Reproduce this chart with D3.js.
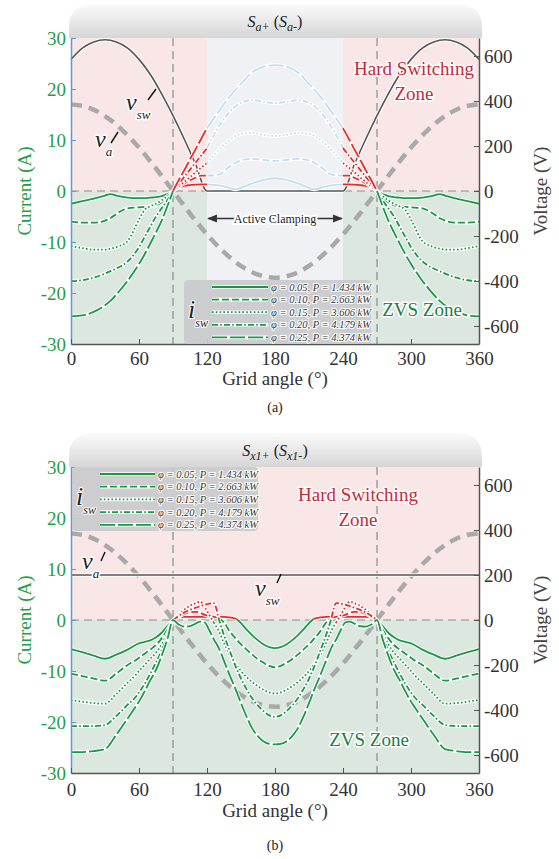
<!DOCTYPE html>
<html>
<head>
<meta charset="utf-8">
<script src="https://cdn.jsdelivr.net/npm/d3@7"></script>
<style>
  body { margin: 0; background: #fff; }
  svg { display: block; }
  .halo { paint-order: stroke; stroke: #fff; stroke-linejoin: round; }
</style>
</head>
<body>
<svg id="chart" width="559" height="859"></svg>
<script>
// ---- data ----
var legendLabels = ["φ = 0.05, P = 1.434 kW", "φ = 0.10, P = 2.663 kW", "φ = 0.15, P = 3.606 kW",
                    "φ = 0.20, P = 4.179 kW", "φ = 0.25, P = 4.374 kW"];
var angleTicks = [0, 60, 120, 180, 240, 300, 360];
var currentTicks = [-30, -20, -10, 0, 10, 20, 30];
var voltageTicks = [-600, -400, -200, 0, 200, 400, 600];

// grid voltage v_a (same in both panels)
var vaAngles = [0, 15, 30, 45, 60, 75, 90, 105, 120, 135, 150, 165, 180, 195, 210, 225, 240, 255, 270, 285, 300, 315, 330, 345, 360];
var vaValues = [385, 372, 333, 272, 193, 100, 0, -100, -193, -272, -333, -372, -385, -372, -333, -272, -193, -100, 0, 100, 193, 272, 333, 372, 385];

// switch voltage, panel (a)
var vswAnglesA = [0, 10, 20, 30, 40, 50, 60, 70, 80, 90, 100, 110, 120, 180, 240, 250, 260, 270, 280, 290, 300, 310, 320, 330, 340, 350, 360];
var vswValuesA = [585, 635, 662, 672, 662, 635, 585, 518, 432, 335, 230, 118, 0, 0, 0, 118, 230, 335, 432, 518, 585, 635, 662, 672, 662, 635, 585];
// switch voltage, panel (b)
var vswAnglesB = [0, 360];
var vswValuesB = [200, 200];

// switch currents, panel (a)
var anglesA = [0, 10, 20, 30, 35, 40, 50, 60, 65, 70, 75, 80, 85, 90, 95, 100, 105, 110, 115, 120, 130, 140, 145, 150, 160, 170, 180,
               190, 200, 210, 215, 220, 230, 240, 245, 250, 255, 260, 265, 270, 275, 280, 285, 290, 295, 300, 310, 320, 325, 330, 340, 350, 360];
var iswA1 = [-2.5, -2.0, -1.5, -0.9, -0.6, -0.9, -1.3, -1.4, -1.4, -1.3, -1.2, -1.0, -0.6, 0, 0.7, 1.0, 1.15, 1.25, 1.3, 1.3, 1.1, 0.6, 0.3, 0.6, 1.5, 2.2, 2.5,
             2.2, 1.5, 0.6, 0.3, 0.6, 1.1, 1.3, 1.3, 1.25, 1.15, 1.0, 0.7, 0, -0.6, -1.0, -1.2, -1.3, -1.4, -1.4, -1.3, -0.9, -0.6, -0.9, -1.5, -2.0, -2.5];
var iswA2 = [-6.0, -6.2, -6.2, -5.8, -5.3, -4.5, -3.4, -3.2, -3.1, -3.0, -2.8, -2.2, -1.2, 0, 0.8, 1.5, 2.1, 2.6, 3.0, 3.0, 3.2, 4.8, 5.5, 6.0, 6.3, 6.1, 5.9,
             6.1, 6.3, 6.0, 5.5, 4.8, 3.2, 3.0, 3.0, 2.6, 2.1, 1.5, 0.8, 0, -1.2, -2.2, -2.8, -3.0, -3.1, -3.2, -3.4, -4.5, -5.3, -5.8, -6.2, -6.2, -6.0];
var iswA3 = [-10.8, -11.2, -11.5, -11.5, -11.3, -11.0, -9.8, -5.6, -3.7, -3.0, -2.5, -1.8, -1.0, 0, 0.9, 1.8, 2.7, 3.7, 4.6, 5.5, 8.0, 10.0, 10.8, 11.2, 11.4, 11.0, 10.8,
             11.0, 11.4, 11.2, 10.8, 10.0, 8.0, 5.5, 4.6, 3.7, 2.7, 1.8, 0.9, 0, -1.0, -1.8, -2.5, -3.0, -3.7, -5.6, -9.8, -11.0, -11.3, -11.5, -11.5, -11.2, -10.8];
var iswA4 = [-17.7, -17.5, -17.0, -16.2, -15.7, -15.2, -13.8, -11.0, -9.0, -7.0, -5.0, -3.4, -1.8, 0, 1.4, 2.8, 4.2, 5.6, 7.0, 8.4, 12.5, 15.5, 16.6, 17.3, 17.8, 17.5, 17.2,
             17.5, 17.8, 17.3, 16.6, 15.5, 12.5, 8.4, 7.0, 5.6, 4.2, 2.8, 1.4, 0, -1.8, -3.4, -5.0, -7.0, -9.0, -11.0, -13.8, -15.2, -15.7, -16.2, -17.0, -17.5, -17.7];
var iswA5 = [-24.6, -24.4, -23.7, -22.4, -21.5, -20.3, -17.6, -14.3, -12.4, -10.3, -8.1, -5.8, -3.0, 0, 2.1, 4.1, 6.2, 8.2, 10.3, 12.3, 15.5, 18.5, 19.8, 21.0, 23.3, 24.4, 24.7,
             24.4, 23.3, 21.0, 19.8, 18.5, 15.5, 12.3, 10.3, 8.2, 6.2, 4.1, 2.1, 0, -3.0, -5.8, -8.1, -10.3, -12.4, -14.3, -17.6, -20.3, -21.5, -22.4, -23.7, -24.4, -24.6];

// switch currents, panel (b)
var anglesB = [0, 10, 20, 30, 40, 50, 57, 60, 65, 70, 75, 80, 85, 90, 95, 100, 105, 110, 114, 118, 122, 126, 130, 135, 140, 146, 150, 155, 160, 165, 170, 175, 180,
               185, 190, 195, 200, 205, 210, 214, 220, 225, 230, 234, 238, 242, 246, 250, 255, 260, 265, 270, 275, 280, 285, 290, 295, 300, 303, 310, 320, 330, 340, 350, 360];
var iswB1 = [-5.7, -6.3, -7.0, -7.6, -6.8, -5.8, -4.9, -4.6, -4.3, -4.0, -3.4, -2.5, -1.2, 0, 0.5, 0.6, 0.6, 0.6, 0.6, 0.6, 0.6, 0.6, 0.6, 0.6, 0.5, 0.2, -0.6, -1.9, -3.0, -4.0, -4.8, -5.3, -5.5,
             -5.3, -4.8, -4.0, -3.0, -1.9, -0.6, 0.2, 0.5, 0.6, 0.6, 0.6, 0.6, 0.6, 0.6, 0.6, 0.6, 0.6, 0.5, 0, -1.2, -2.5, -3.4, -4.0, -4.3, -4.6, -4.9, -5.8, -6.8, -7.6, -7.0, -6.3, -5.7];
var iswB2 = [-10.5, -11.0, -11.5, -11.9, -10.5, -8.8, -7.9, -7.4, -6.6, -5.8, -4.9, -3.6, -1.9, 0, 0.6, 1.2, 1.5, 1.6, 1.4, 1.0, 0.8, 0.6, 0.4, -0.5, -2.2, -3.8, -4.8, -5.8, -6.8, -7.7, -8.4, -9.0, -9.3,
             -9.0, -8.4, -7.7, -6.8, -5.8, -4.8, -3.8, -2.2, -0.5, 0.4, 0.6, 0.8, 1.0, 1.4, 1.6, 1.5, 1.2, 0.6, 0, -1.9, -3.6, -4.9, -5.8, -6.6, -7.4, -7.9, -8.8, -10.5, -11.9, -11.5, -11.0, -10.5];
var iswB3 = [-15.7, -16.0, -16.3, -16.4, -14.5, -12.3, -10.8, -10.0, -8.8, -7.6, -6.4, -4.8, -2.6, 0, 1.0, 2.0, 2.8, 3.3, 3.6, 2.5, 1.0, -0.5, -2.0, -4.5, -6.8, -8.8, -10.0, -11.2, -12.2, -13.0, -13.7, -14.2, -14.4,
             -14.2, -13.7, -13.0, -12.2, -11.2, -10.0, -8.8, -6.8, -4.5, -2.0, -0.5, 1.0, 2.5, 3.6, 3.3, 2.8, 2.0, 1.0, 0, -2.6, -4.8, -6.4, -7.6, -8.8, -10.0, -10.8, -12.3, -14.5, -16.4, -16.3, -16.0, -15.7];
var iswB4 = [-20.8, -20.8, -20.8, -20.6, -18.8, -16.6, -15.1, -14.2, -12.5, -10.5, -8.3, -6.0, -3.2, 0, 0.8, 1.5, 2.0, 2.4, 2.7, 3.0, 3.2, 3.3, 0.5, -3.0, -6.0, -9.5, -11.5, -13.6, -15.4, -16.8, -17.9, -18.7, -19.0,
             -18.7, -17.9, -16.8, -15.4, -13.6, -11.5, -9.5, -6.0, -3.0, 0.5, 3.3, 3.2, 3.0, 2.7, 2.4, 2.0, 1.5, 0.8, 0, -3.2, -6.0, -8.3, -10.5, -12.5, -14.2, -15.1, -16.6, -18.8, -20.6, -20.8, -20.8, -20.8];
var iswB5 = [-25.9, -25.9, -25.7, -25.3, -22.5, -19.3, -17.0, -16.0, -14.0, -11.8, -9.8, -7.0, -3.8, 0, -0.9, -1.3, -1.2, -0.7, -0.3, -0.5, -2.0, -3.8, -5.3, -8.0, -10.8, -14.0, -16.3, -19.0, -21.3, -22.8, -23.8, -24.3, -24.4,
             -24.3, -23.8, -22.8, -21.3, -19.0, -16.3, -14.0, -10.8, -8.0, -5.3, -3.8, -2.0, -0.5, -0.3, -0.7, -1.2, -1.3, -0.9, 0, -3.8, -7.0, -9.8, -11.8, -14.0, -16.0, -17.0, -19.3, -22.5, -25.3, -25.7, -25.9, -25.9];

// ---- styling ----
var GREEN = "#1b9847", RED = "#ec2a2c", BLUE = "#c6dcef";
var SERIF = "'Liberation Serif', 'Times New Roman', serif";
var dashes = [null, "7,3", "1.6,2.2", "6,2.2,1.6,2.2", "15,3"];

var svg = d3.select("#chart");
var defs = svg.append("defs");
var grad = defs.append("linearGradient").attr("id", "titleGrad").attr("x1", 0).attr("y1", 0).attr("x2", 0).attr("y2", 1);
grad.append("stop").attr("offset", "0%").attr("stop-color", "#fbfbfb");
grad.append("stop").attr("offset", "100%").attr("stop-color", "#d6d6d6");
defs.append("marker").attr("id", "arrow").attr("viewBox", "0 0 10 10").attr("refX", 9).attr("refY", 5)
  .attr("markerWidth", 7).attr("markerHeight", 7).attr("orient", "auto-start-reverse")
  .append("path").attr("d", "M0,1 L10,5 L0,9 Z").attr("fill", "#333");

var x = d3.scaleLinear().domain([0, 360]).range([71, 479]);

function splitByColour(angles, vals, colourOf) {
  var segs = [], cur = null;
  for (var i = 0; i < angles.length - 1; i++) {
    var c = colourOf((angles[i] + angles[i + 1]) / 2, (vals[i] + vals[i + 1]) / 2);
    if (!cur || cur.colour !== c) {
      cur = {colour: c, pts: [[angles[i], vals[i]]]};
      segs.push(cur);
    }
    cur.pts.push([angles[i + 1], vals[i + 1]]);
  }
  return segs;
}

function drawPanel(p) {
  var g = svg.append("g");
  var yI = d3.scaleLinear().domain([-30, 30]).range([p.bottom, p.top]);
  var yV = d3.scaleLinear().domain([-680, 680]).range([p.bottom, p.top]);

  // title bar
  var x0 = 69, x1 = 482, yt = p.top - 34, yb = p.top, r = 24;
  g.append("path")
    .attr("d", "M" + x0 + "," + yb + "L" + x0 + "," + (yt + r) + "Q" + x0 + "," + yt + " " + (x0 + r) + "," + yt +
               "L" + (x1 - r) + "," + yt + "Q" + x1 + "," + yt + " " + x1 + "," + (yt + r) + "L" + x1 + "," + yb + "Z")
    .attr("fill", "url(#titleGrad)");
  var t = g.append("text").attr("x", x(180)).attr("y", p.top - 11).attr("text-anchor", "middle")
    .attr("font-size", 16).attr("font-style", "italic").attr("fill", "#222");
  t.append("tspan").text("S");
  t.append("tspan").attr("font-size", 12).attr("dy", 4).text(p.sub + "+");
  t.append("tspan").attr("dy", -4).attr("font-style", "normal").text(" (");
  t.append("tspan").text("S");
  t.append("tspan").attr("font-size", 12).attr("dy", 4).text(p.sub + "-");
  t.append("tspan").attr("dy", -4).attr("font-style", "normal").text(")");

  // background zones
  p.zones.forEach(function(z) {
    if (z[2] === "clamp") {
      g.append("rect").attr("x", x(z[0])).attr("width", x(z[1]) - x(z[0]))
        .attr("y", p.top).attr("height", p.bottom - p.top).attr("fill", "#eff1f4");
    } else {
      g.append("rect").attr("x", x(z[0])).attr("width", x(z[1]) - x(z[0]))
        .attr("y", p.top).attr("height", yI(0) - p.top).attr("fill", "#f8e7e6");
      g.append("rect").attr("x", x(z[0])).attr("width", x(z[1]) - x(z[0]))
        .attr("y", yI(0)).attr("height", p.bottom - yI(0)).attr("fill", "#dbe7df");
    }
  });

  // dashed reference lines
  g.append("line").attr("x1", x(0)).attr("x2", x(360)).attr("y1", yI(0)).attr("y2", yI(0))
    .attr("stroke", "#8c8c8c").attr("stroke-width", 1.2).attr("stroke-dasharray", "8,5");
  [90, 270].forEach(function(a) {
    g.append("line").attr("x1", x(a)).attr("x2", x(a)).attr("y1", p.top).attr("y2", p.bottom)
      .attr("stroke", "#8c8c8c").attr("stroke-width", 1.2).attr("stroke-dasharray", "8,5");
  });

  // v_a
  var lineV = d3.line().x(function(d) { return x(d[0]); }).y(function(d) { return yV(d[1]); }).curve(d3.curveMonotoneX);
  g.append("path").datum(d3.zip(vaAngles, vaValues)).attr("d", lineV)
    .attr("fill", "none").attr("stroke", "#a9a9a9").attr("stroke-width", 4.5).attr("stroke-dasharray", "11,7");
  // v_sw
  var vsw = d3.zip(p.vswAngles, p.vswValues);
  g.append("path").datum(vsw).attr("d", lineV).attr("fill", "none").attr("stroke", "#fff").attr("stroke-width", 3.5);
  g.append("path").datum(vsw).attr("d", lineV).attr("fill", "none").attr("stroke", "#555").attr("stroke-width", 1.6);

  // switch currents
  var lineI = d3.line().x(function(d) { return x(d[0]); }).y(function(d) { return yI(d[1]); }).curve(d3.curveMonotoneX);
  p.series.forEach(function(vals, k) {
    var segs = splitByColour(p.angles, vals, p.colourOf);
    segs.forEach(function(s) {
      g.append("path").datum(s.pts).attr("d", lineI).attr("fill", "none")
        .attr("stroke", "#fff").attr("stroke-width", 3.6).attr("stroke-linejoin", "round");
    });
    segs.forEach(function(s) {
      g.append("path").datum(s.pts).attr("d", lineI).attr("fill", "none")
        .attr("stroke", s.colour).attr("stroke-width", 1.8).attr("stroke-dasharray", dashes[k]);
    });
  });

  // axes
  function styleAxis(ax, lineColour, textColour) {
    ax.attr("font-size", 19);
    ax.select(".domain").attr("stroke", lineColour).attr("stroke-width", 1.5);
    ax.selectAll(".tick line").attr("stroke", lineColour);
    ax.selectAll("text").attr("fill", textColour);
  }
  styleAxis(g.append("g").attr("transform", "translate(" + x(0) + ",0)")
    .call(d3.axisLeft(yI).tickValues(currentTicks).tickFormat(String).tickSizeInner(-5).tickSizeOuter(0).tickPadding(5)),
    "#5b9bd5", "#1f9e4a");
  styleAxis(g.append("g").attr("transform", "translate(" + x(360) + ",0)")
    .call(d3.axisRight(yV).tickValues(voltageTicks).tickFormat(String).tickSizeInner(-5).tickSizeOuter(0).tickPadding(5)),
    "#555", "#333");
  styleAxis(g.append("g").attr("transform", "translate(0," + p.bottom + ")")
    .call(d3.axisBottom(x).tickValues(angleTicks).tickFormat(String).tickSizeInner(-5).tickSizeOuter(0).tickPadding(p.tickPad)),
    "#555", "#333");

  g.append("text").attr("x", x(180)).attr("y", p.bottom + p.titleGap).attr("text-anchor", "middle")
    .attr("font-size", 19).attr("fill", "#333").text("Grid angle (°)");
  g.append("text").attr("transform", "translate(31," + yI(0) + ") rotate(-90)").attr("text-anchor", "middle")
    .attr("font-size", 19).attr("fill", "#1f9e4a").text("Current (A)");
  g.append("text").attr("transform", "translate(547," + yI(0) + ") rotate(-90)").attr("text-anchor", "middle")
    .attr("font-size", 19).attr("fill", "#444").text("Voltage (V)");
  g.append("text").attr("x", x(180)).attr("y", p.bottom + p.tagGap).attr("text-anchor", "middle")
    .attr("font-size", 14).attr("fill", "#222").text(p.tag);

  // zone labels
  g.append("text").attr("class", "halo").attr("stroke-width", 3).attr("x", p.hard[0]).attr("y", p.hard[1])
    .attr("text-anchor", "middle").attr("font-size", 19).attr("fill", "#c8283c").text("Hard Switching");
  g.append("text").attr("class", "halo").attr("stroke-width", 3).attr("x", p.hard[0]).attr("y", p.hard[1] + 25)
    .attr("text-anchor", "middle").attr("font-size", 19).attr("fill", "#c8283c").text("Zone");
  g.append("text").attr("class", "halo").attr("stroke-width", 3).attr("x", p.zvs[0]).attr("y", p.zvs[1])
    .attr("text-anchor", "middle").attr("font-size", 19).attr("fill", "#1d7d46").text("ZVS Zone");

  // voltage labels
  p.vLabels.forEach(function(l) {
    var tt = g.append("text").attr("class", "halo").attr("stroke-width", 3).attr("x", l.x).attr("y", l.y)
      .attr("font-size", 24).attr("font-style", "italic").attr("fill", "#222");
    tt.append("tspan").text("v");
    tt.append("tspan").attr("font-size", 13).attr("dy", 9).text(l.sub);
    g.append("line").attr("x1", l.lead[0]).attr("y1", l.lead[1]).attr("x2", l.lead[2]).attr("y2", l.lead[3])
      .attr("stroke", "#111").attr("stroke-width", 1.4);
  });

  // legend
  var L = p.legend;
  g.append("rect").attr("x", L.x).attr("y", L.y).attr("width", L.w).attr("height", L.h).attr("rx", 4)
    .attr("fill", "#c9cacc").attr("opacity", 0.92);
  var it = g.append("text").attr("class", "halo").attr("stroke-width", 2).attr("x", L.x + 4).attr("y", L.y + L.h / 2 + 6)
    .attr("font-size", 26).attr("font-style", "italic").attr("fill", "#222");
  it.append("tspan").text("i");
  it.append("tspan").attr("font-size", 12).attr("dy", 9).text("sw");
  legendLabels.forEach(function(lab, k) {
    var yy = L.y + 7 + k * L.step;
    g.append("line").attr("x1", L.lx0).attr("x2", L.lx1).attr("y1", yy).attr("y2", yy)
      .attr("stroke", "#fff").attr("stroke-width", 3.6);
    g.append("line").attr("x1", L.lx0).attr("x2", L.lx1).attr("y1", yy).attr("y2", yy)
      .attr("stroke", GREEN).attr("stroke-width", 1.8).attr("stroke-dasharray", dashes[k]);
    g.append("text").attr("class", "halo").attr("stroke-width", 2.2).attr("x", L.lx1 + 3).attr("y", yy + 3.5)
      .attr("font-size", 10.5).attr("font-style", "italic").attr("fill", "#333").text(lab);
  });

  if (p.clamp) {
    var yy = yI(-5.4);
    g.append("line").attr("x1", x(121)).attr("x2", x(239)).attr("y1", yy).attr("y2", yy)
      .attr("stroke", "#333").attr("stroke-width", 1.4)
      .attr("marker-start", "url(#arrow)").attr("marker-end", "url(#arrow)");
    g.append("text").attr("class", "halo").attr("stroke-width", 4).attr("x", x(180)).attr("y", yy + 4)
      .attr("text-anchor", "middle").attr("font-size", 12).attr("fill", "#222").text("Active Clamping");
  }
}

drawPanel({
  top: 38, bottom: 344, sub: "a", tag: "(a)", tickPad: 8, titleGap: 41, tagGap: 68,
  zones: [[0, 120, "split"], [120, 240, "clamp"], [240, 360, "split"]],
  vswAngles: vswAnglesA, vswValues: vswValuesA,
  angles: anglesA, series: [iswA1, iswA2, iswA3, iswA4, iswA5],
  colourOf: function(a, v) { return (a > 120 && a < 240) ? BLUE : (v > 0 ? RED : GREEN); },
  hard: [414, 75], zvs: [422, 316],
  vLabels: [{x: 126, y: 110, sub: "sw", lead: [148, 100, 156, 89]},
            {x: 95, y: 147, sub: "a", lead: [111, 143, 118, 132]}],
  legend: {x: 184, y: 280, w: 187, h: 64, step: 12.6, lx0: 212, lx1: 268},
  clamp: true
});

drawPanel({
  top: 467, bottom: 773, sub: "x1", tag: "(b)", tickPad: 10, titleGap: 44, tagGap: 77,
  zones: [[0, 360, "split"]],
  vswAngles: vswAnglesB, vswValues: vswValuesB,
  angles: anglesB, series: [iswB1, iswB2, iswB3, iswB4, iswB5],
  colourOf: function(a, v) { return v > 0 ? RED : GREEN; },
  hard: [358, 501], zvs: [369, 746],
  vLabels: [{x: 82, y: 569, sub: "a", lead: [101, 561, 105, 552]},
            {x: 255, y: 596, sub: "sw", lead: [277, 583, 281, 574]}],
  legend: {x: 72, y: 467, w: 186, h: 64, step: 12.7, lx0: 100, lx1: 155},
  clamp: false
});

// serif everywhere (inline style beats the axis' own font attributes)
svg.selectAll("text").style("font-family", SERIF);
</script>
</body>
</html>
